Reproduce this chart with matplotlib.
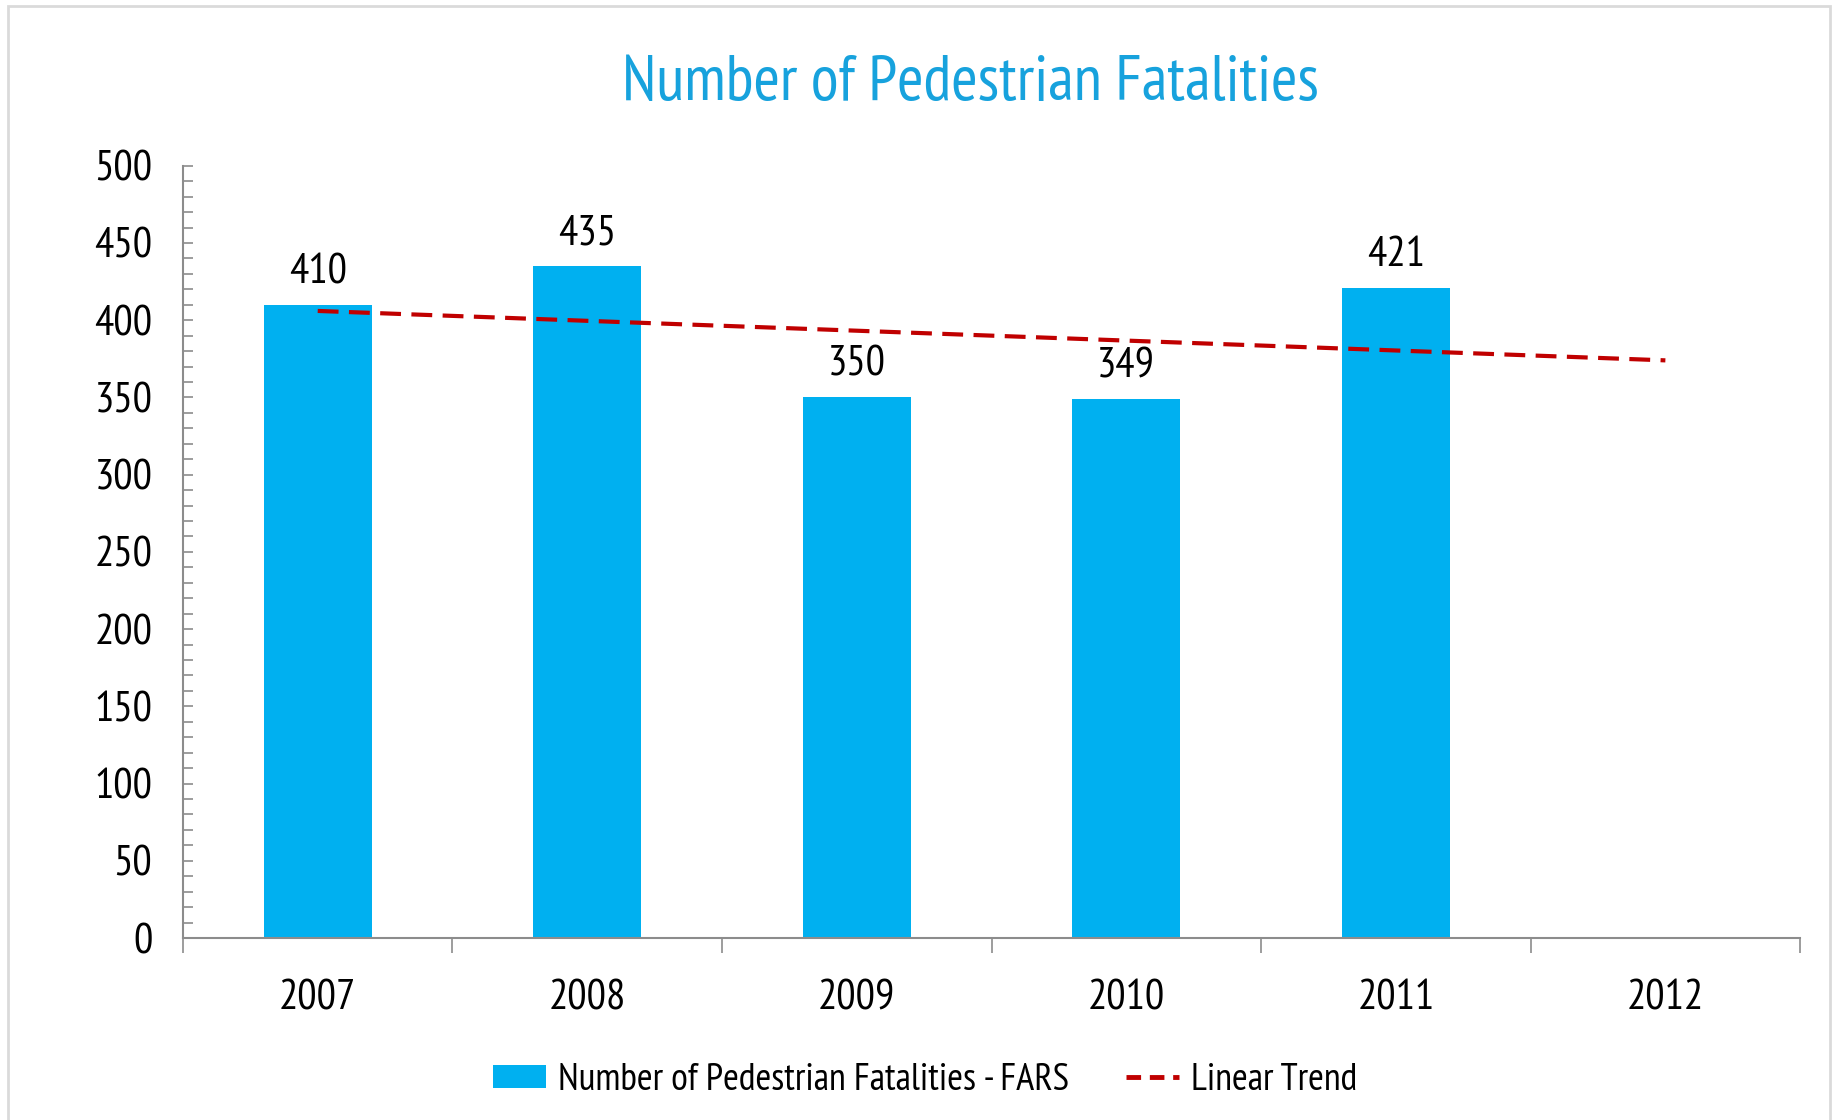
import matplotlib
matplotlib.use("Agg")
import matplotlib.pyplot as plt
from matplotlib.patches import Rectangle, Patch
from matplotlib.lines import Line2D
from matplotlib.ticker import MultipleLocator

plt.rcParams['font.family'] = ['PT Sans Narrow', 'DejaVu Sans']

# data
years = ['2007', '2008', '2009', '2010', '2011', '2012']
fatalities = [410, 435, 350, 349, 421]
trend_years = ['2007', '2012']
trend_values = [406, 374]

bar_color = '#00B0F0'
title_color = '#17A2DD'
trend_color = '#C00000'
axis_color = '#8C8C8C'

fig = plt.figure(figsize=(18.35, 11.2), dpi=100)
ax = fig.add_axes([0.0997, 0.1625, 0.8813, 0.6895])

x = list(range(len(fatalities)))
ax.bar(x, fatalities, width=0.4, color=bar_color, zorder=2)
for xi, v in zip(x, fatalities):
    ax.annotate(str(v), (xi, v), xytext=(0, 9), textcoords='offset points',
                ha='center', va='bottom', fontsize=31, color='black')

tx = [years.index(y) for y in trend_years]
ax.plot(tx, trend_values, color=trend_color, lw=3, dashes=(5, 2.5), zorder=3)

ax.set_xlim(-0.5, len(years) - 0.5)
ax.set_ylim(0, 500)

# category boundaries carry the tick marks, labels sit at centres
ax.set_xticks([i - 0.5 for i in range(len(years) + 1)])
ax.set_xticklabels([])
ax.set_xticks(range(len(years)), minor=True)
ax.set_xticklabels(years, minor=True, fontsize=31)
ax.tick_params(axis='x', which='major', direction='out', length=11, width=1.2, color=axis_color)
ax.tick_params(axis='x', which='minor', length=0, pad=30)

ax.yaxis.set_major_locator(MultipleLocator(50))
ax.yaxis.set_minor_locator(MultipleLocator(10))
ax.tick_params(axis='y', which='both', direction='in', length=7, width=1.2, color=axis_color)
ax.tick_params(axis='y', which='major', labelsize=31, pad=22)

for s in ['top', 'right']:
    ax.spines[s].set_visible(False)
for s in ['left', 'bottom']:
    ax.spines[s].set_color(axis_color)
    ax.spines[s].set_linewidth(1.5)

fig.text(0.529, 0.925, 'Number of Pedestrian Fatalities', ha='center', va='center',
         fontsize=46, color=title_color)

handles = [Patch(facecolor=bar_color, edgecolor='none'),
           Line2D([], [], color=trend_color, lw=3.5, dashes=(3, 1.8))]
fig.legend(handles, ['Number of Pedestrian Fatalities - FARS', 'Linear Trend'],
           loc='center', bbox_to_anchor=(0.504, 0.0355), ncol=2, frameon=False,
           fontsize=27.5, handlelength=1.4, handleheight=0.55, handletextpad=0.3,
           columnspacing=1.5)

fig.patches.append(Rectangle((0.0045, -0.01), 0.993, 1.005, transform=fig.transFigure,
                             fill=False, edgecolor='#DADADA', lw=2))

fig.savefig('out.png', dpi=100, facecolor='white')
